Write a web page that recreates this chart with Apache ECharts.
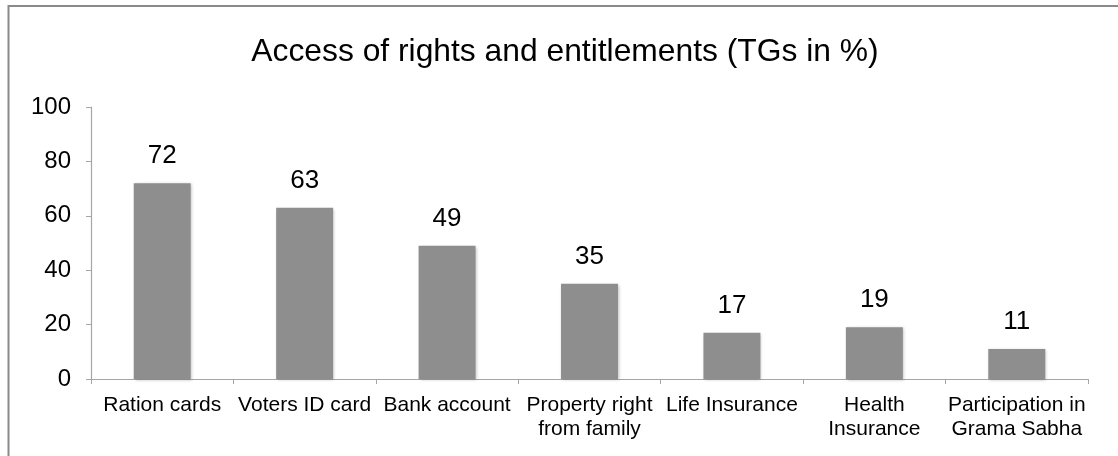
<!DOCTYPE html>
<html><head><meta charset="utf-8">
<script src="https://cdn.jsdelivr.net/npm/echarts@6/dist/echarts.min.js"></script>
<style>html,body{margin:0;padding:0;background:#fff}#c{width:1118px;height:456px}</style>
</head><body><div id="c"></div>
<script>
const categories = ['Ration cards', 'Voters ID card', 'Bank account', 'Property right\nfrom family', 'Life Insurance', 'Health\nInsurance', 'Participation in\nGrama Sabha'];
const values = [72, 63, 49, 35, 17, 19, 11];
const yTicks = [0, 20, 40, 60, 80, 100];
const titleText = 'Access of rights and entitlements (TGs in %)';

const chart = echarts.init(document.getElementById('c'), null, {renderer: 'canvas'});
const font = '"Liberation Sans", Arial, Helvetica, sans-serif';
chart.setOption({
  animation: false,
  title: {
    text: titleText, left: 560, top: 31, textAlign: 'center',
    textStyle: {fontFamily: font, fontSize: 31.8, fontWeight: 'normal', color: '#000'}
  },
  graphic: [
    {type: 'polyline', shape: {points: [[8.5, 456], [8.5, 6], [1118, 6]]}, style: {stroke: '#8a8a8a', lineWidth: 2, fill: null}, silent: true}
  ],
  grid: {left: 91, right: 30, top: 107, bottom: 77},
  xAxis: {
    type: 'category', data: categories,
    axisLine: {lineStyle: {color: '#a6a6a6', width: 1.2}},
    axisTick: {show: true, length: 5, lineStyle: {color: '#a6a6a6'}},
    axisLabel: {fontFamily: font, fontSize: 21, color: '#000', margin: 14, lineHeight: 24, interval: 0}
  },
  yAxis: {
    type: 'value', min: yTicks[0], max: yTicks[yTicks.length - 1], interval: 20,
    splitLine: {show: false},
    axisLine: {show: true, lineStyle: {color: '#a6a6a6', width: 1.2}},
    axisTick: {show: true, length: 5, lineStyle: {color: '#a6a6a6'}},
    axisLabel: {fontFamily: font, fontSize: 24, color: '#000', margin: 20}
  },
  series: [{
    type: 'bar', data: values, barWidth: '40%',
    itemStyle: {color: '#8e8e8e', shadowColor: 'rgba(0,0,0,0.25)', shadowBlur: 3, shadowOffsetX: 1, shadowOffsetY: 1},
    label: {show: true, position: 'top', distance: 14, fontFamily: font, fontSize: 26, color: '#000'}
  }]
});
</script></body></html>
